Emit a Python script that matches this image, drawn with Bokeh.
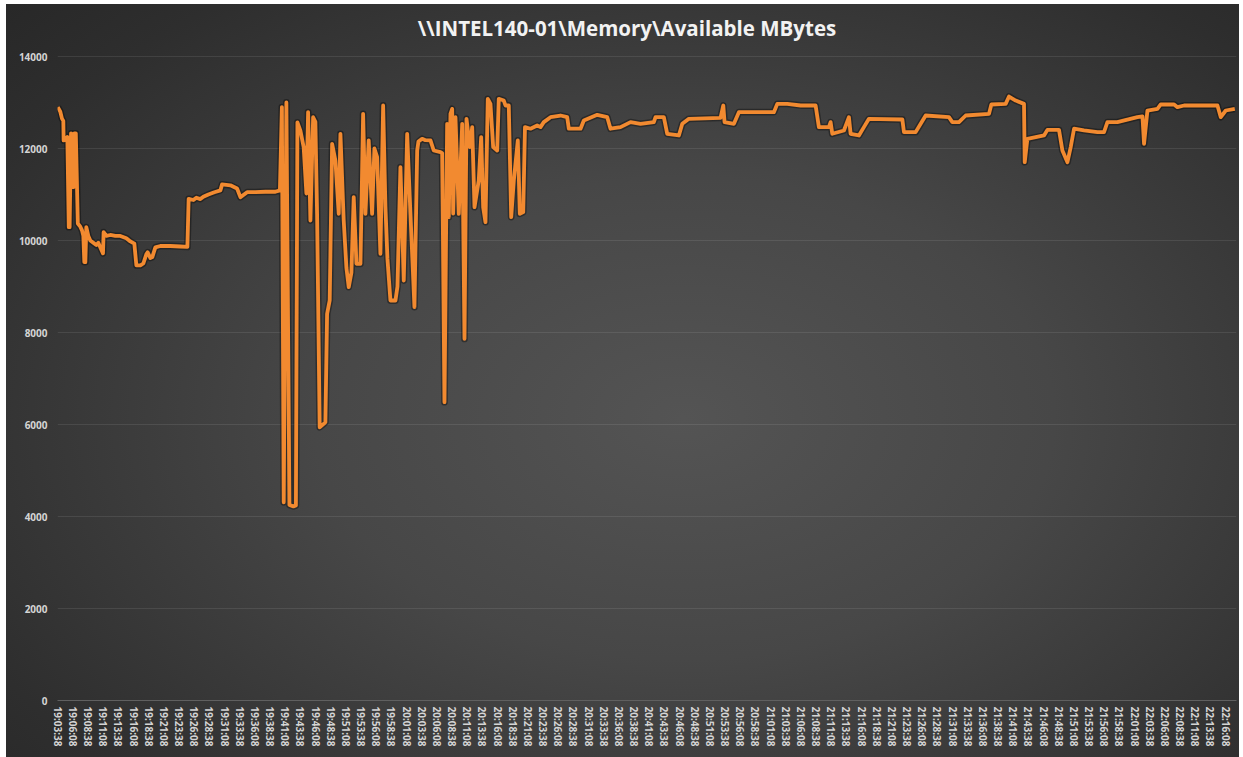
from bokeh.plotting import figure
from bokeh.models import FixedTicker, Range1d, Label
from bokeh.embed import file_html
from bokeh.resources import INLINE

TITLE = r"\\INTEL140-01\Memory\Available MBytes"

# minutes since 19:03:38
minutes = [
    0.00, 0.41, 0.69, 0.91, 0.96, 1.24, 1.57, 1.81, 1.95, 2.18, 2.39, 2.56, 2.72, 2.97,
    3.30, 3.71, 3.99, 4.21, 4.37, 4.54, 4.70, 5.03, 5.36, 5.85, 6.35, 6.68, 7.01, 7.45,
    7.55, 8.00, 8.66, 9.48, 10.31, 11.30, 11.96, 12.62, 12.95, 13.61, 14.10, 14.59, 14.81,
    15.25, 15.58, 16.08, 16.90, 18.55, 20.20, 21.36, 21.57, 22.35, 22.84, 23.50, 23.99,
    24.82, 25.81, 26.80, 27.08, 28.45, 29.55, 30.10, 31.20, 32.57, 34.22, 35.87, 36.61,
    36.94, 37.24, 37.68, 38.18, 38.84, 39.25, 39.50, 39.99, 40.53, 40.98, 41.26, 41.64,
    42.09, 42.46, 42.74, 43.17, 43.83, 44.11, 44.39, 44.82, 45.22, 45.76, 46.31, 46.59,
    47.13, 47.58, 47.96, 48.40, 48.78, 49.23, 49.89, 50.33, 50.71, 51.25, 51.81, 52.19,
    52.64, 53.18, 53.63, 54.01, 54.34, 54.83, 55.66, 55.99, 56.48, 57.03, 57.59, 58.13,
    58.79, 59.24, 59.45, 60.06, 60.60, 61.43, 61.97, 63.08, 63.36, 63.74, 64.18, 64.45,
    64.73, 65.01, 65.17, 65.55, 66.10, 66.66, 67.04, 67.37, 67.91, 68.31, 68.69, 69.39,
    69.79, 70.12, 70.50, 70.88, 71.32, 71.77, 72.43, 72.69, 73.52, 73.80, 74.34, 74.74,
    75.17, 75.83, 76.16, 76.72, 77.01, 77.92, 79.02, 79.57, 80.11, 81.22, 82.87, 83.97,
    84.24, 86.17, 86.71, 88.92, 90.57, 91.11, 92.76, 94.41, 96.06, 98.25, 98.53, 99.90,
    100.46, 102.38, 102.94, 104.03, 109.25, 109.70, 109.91, 111.45, 112.27, 118.04,
    118.60, 120.25, 122.45, 124.92, 125.46, 127.11, 127.39, 127.67, 129.59, 130.41,
    130.69, 132.06, 132.88, 133.71, 139.22, 139.48, 141.41, 142.24, 143.06, 146.90,
    147.46, 148.55, 149.66, 153.50, 153.89, 156.25, 156.80, 157.90, 159.27, 159.39,
    159.83, 162.57, 163.13, 165.04, 165.60, 166.43, 166.97, 167.52, 169.16, 171.38,
    172.46, 173.02, 174.67, 177.97, 178.80, 179.06, 179.62, 181.27, 181.81, 184.01,
    184.57, 185.66, 191.16, 191.71, 192.53, 194.02,
]

mbytes = [
    12900, 12800, 12650, 12600, 12175, 12200, 12250, 10290, 10290, 12330, 12300, 11160, 12330, 12330,
    10370, 10300, 10220, 10100, 9530, 9530, 10290, 10100, 10000, 9950, 9900, 9950, 9850, 9720,
    10180, 10100, 10120, 10100, 10100, 10050, 9980, 9930, 9460, 9460, 9500, 9700, 9745,
    9620, 9640, 9850, 9880, 9880, 9870, 9860, 10905, 10880, 10930, 10900, 10950,
    11000, 11050, 11090, 11220, 11200, 11130, 10942, 11050, 11050, 11060, 11060, 11090,
    12900, 4310, 13000, 4250, 4220, 4240, 12570, 12390, 12030, 11022, 12790, 10435,
    12680, 12580, 10587, 5940, 6014, 6050, 8407, 8696, 12102, 11739, 10580, 12320,
    10435, 9400, 8985, 9300, 10942, 9494, 9494, 12753, 10580, 12175, 10580, 12000,
    11811, 9711, 12935, 10725, 9600, 8696, 8696, 9000, 11594, 9130, 12320, 10580,
    8550, 11957, 12150, 12211, 12180, 12175, 11957, 11920, 11900, 6485, 12537, 10508,
    12753, 12862, 10587, 12681, 10580, 12537, 7862, 12645, 12030, 12465, 10725, 11304,
    12247, 10725, 10400, 13080, 12970, 12030, 11957, 13080, 13043, 12935, 12935, 10508,
    11304, 12175, 10580, 10617, 12465, 12430, 12500, 12465, 12573, 12681, 12717, 12681,
    12430, 12430, 12609, 12732, 12681, 12430, 12465, 12573, 12537, 12573, 12681, 12681,
    12320, 12283, 12537, 12645, 12667, 12935, 12573, 12537, 12790, 12790,
    12970, 12970, 12935, 12935, 12465, 12465, 12573, 12320, 12392, 12681,
    12320, 12283, 12465, 12645, 12630, 12356, 12356, 12537, 12717, 12681,
    12573, 12573, 12717, 12753, 12957, 12970, 13130, 13043, 12970, 11702,
    12210, 12283, 12405, 12405, 11957, 11702, 12030, 12430, 12392, 12356,
    12356, 12573, 12573, 12681, 12700, 12102, 12826, 12862, 12957, 12957,
    12898, 12935, 12935, 12681, 12826, 12862,
]

tick_labels = [
    "19:03:38", "19:06:08", "19:08:38", "19:11:08", "19:13:38", "19:16:08", "19:18:38", "19:21:08",
    "19:23:38", "19:26:08", "19:28:38", "19:31:08", "19:33:38", "19:36:08", "19:38:38", "19:41:08",
    "19:43:38", "19:46:08", "19:48:38", "19:51:08", "19:53:38", "19:56:08", "19:58:38", "20:01:08",
    "20:03:38", "20:06:08", "20:08:38", "20:11:08", "20:13:38", "20:16:08", "20:18:38", "20:21:08",
    "20:23:38", "20:26:08", "20:28:38", "20:31:08", "20:33:38", "20:36:08", "20:38:38", "20:41:08",
    "20:43:38", "20:46:08", "20:48:38", "20:51:08", "20:53:38", "20:56:08", "20:58:38", "21:01:08",
    "21:03:38", "21:06:08", "21:08:38", "21:11:08", "21:13:38", "21:16:08", "21:18:38", "21:21:08",
    "21:23:38", "21:26:08", "21:28:38", "21:31:08", "21:33:38", "21:36:08", "21:38:38", "21:41:08",
    "21:43:38", "21:46:08", "21:48:38", "21:51:08", "21:53:38", "21:56:08", "21:58:38", "22:01:08",
    "22:03:38", "22:06:08", "22:08:38", "22:11:08", "22:13:38", "22:16:08",
]
tick_step_minutes = 2.5
y_ticks = [0, 2000, 4000, 6000, 8000, 10000, 12000, 14000]

tick_pos = [i * tick_step_minutes for i in range(len(tick_labels))]

# layout: frame extends above the 14000 gridline to make room for the title inside it
FIG_W, FIG_H = 1233, 753
BORDER_L, BORDER_R, BORDER_T, BORDER_B = 51, 3, 4, 57
PX_PER_UNIT = 644 / 14000          # 14000 MB spans 644 px
FRAME_H = FIG_H - BORDER_T - BORDER_B
Y_END = FRAME_H / PX_PER_UNIT
X_START, X_END = -0.05, 194.3

p = figure(
    width=FIG_W, height=FIG_H, output_backend="svg", toolbar_location=None,
    x_range=Range1d(X_START, X_END), y_range=Range1d(0, Y_END),
    min_border_left=BORDER_L, min_border_right=BORDER_R,
    min_border_top=BORDER_T, min_border_bottom=BORDER_B,
)
p.styles = {
    "margin-left": "6px",
    "margin-top": "4px",
    "background": "radial-gradient(ellipse 75% 80% at 55% 55%, #545454 0%, #474747 40%, #2e2e2e 85%, #282828 100%)",
}
p.background_fill_alpha = 0
p.border_fill_alpha = 0
p.outline_line_color = None

# title centred on the whole chart, 29 px above the 14000 gridline
frame_w = FIG_W - BORDER_L - BORDER_R
title_x = X_START + (FIG_W / 2 - BORDER_L + 4) / frame_w * (X_END - X_START)
title_y = 14000 + 29 / PX_PER_UNIT
p.add_layout(Label(
    x=title_x, y=title_y, text=TITLE,
    text_align="center", text_baseline="middle", text_font="Open Sans",
    text_font_size="20.5px", text_font_style="bold", text_color="#f2f2f2",
))

p.line(minutes, mbytes, line_color="#000000", line_alpha=0.35, line_width=6.8, line_join="round")
p.line(minutes, mbytes, line_color="#F28A30", line_width=3.8, line_join="round")

p.xgrid.grid_line_color = None
p.ygrid.grid_line_color = "#ffffff"
p.ygrid.grid_line_alpha = 0.09
p.ygrid.ticker = FixedTicker(ticks=y_ticks)

label_color = "#d4d4d4"

xa = p.xaxis[0]
xa.ticker = FixedTicker(ticks=tick_pos)
xa.major_label_overrides = {tp: lab for tp, lab in zip(tick_pos, tick_labels)}
xa.major_label_orientation = "vertical"
xa.axis_line_color = "#606060"
xa.major_tick_line_color = None
xa.minor_tick_line_color = None
xa.major_tick_out = 0
xa.minor_tick_out = 0
xa.major_label_standoff = 6
xa.major_label_text_font = "Open Sans"
xa.major_label_text_font_size = "10px"
xa.major_label_text_font_style = "bold"
xa.major_label_text_color = label_color

ya = p.yaxis[0]
ya.ticker = FixedTicker(ticks=y_ticks)
ya.axis_line_color = None
ya.major_tick_line_color = None
ya.minor_tick_line_color = None
ya.major_tick_out = 0
ya.minor_tick_out = 0
ya.major_label_standoff = 10
ya.major_label_text_font = "Open Sans"
ya.major_label_text_font_size = "10px"
ya.major_label_text_font_style = "bold"
ya.major_label_text_color = label_color

open("out.html", "w").write(file_html(p, INLINE))
